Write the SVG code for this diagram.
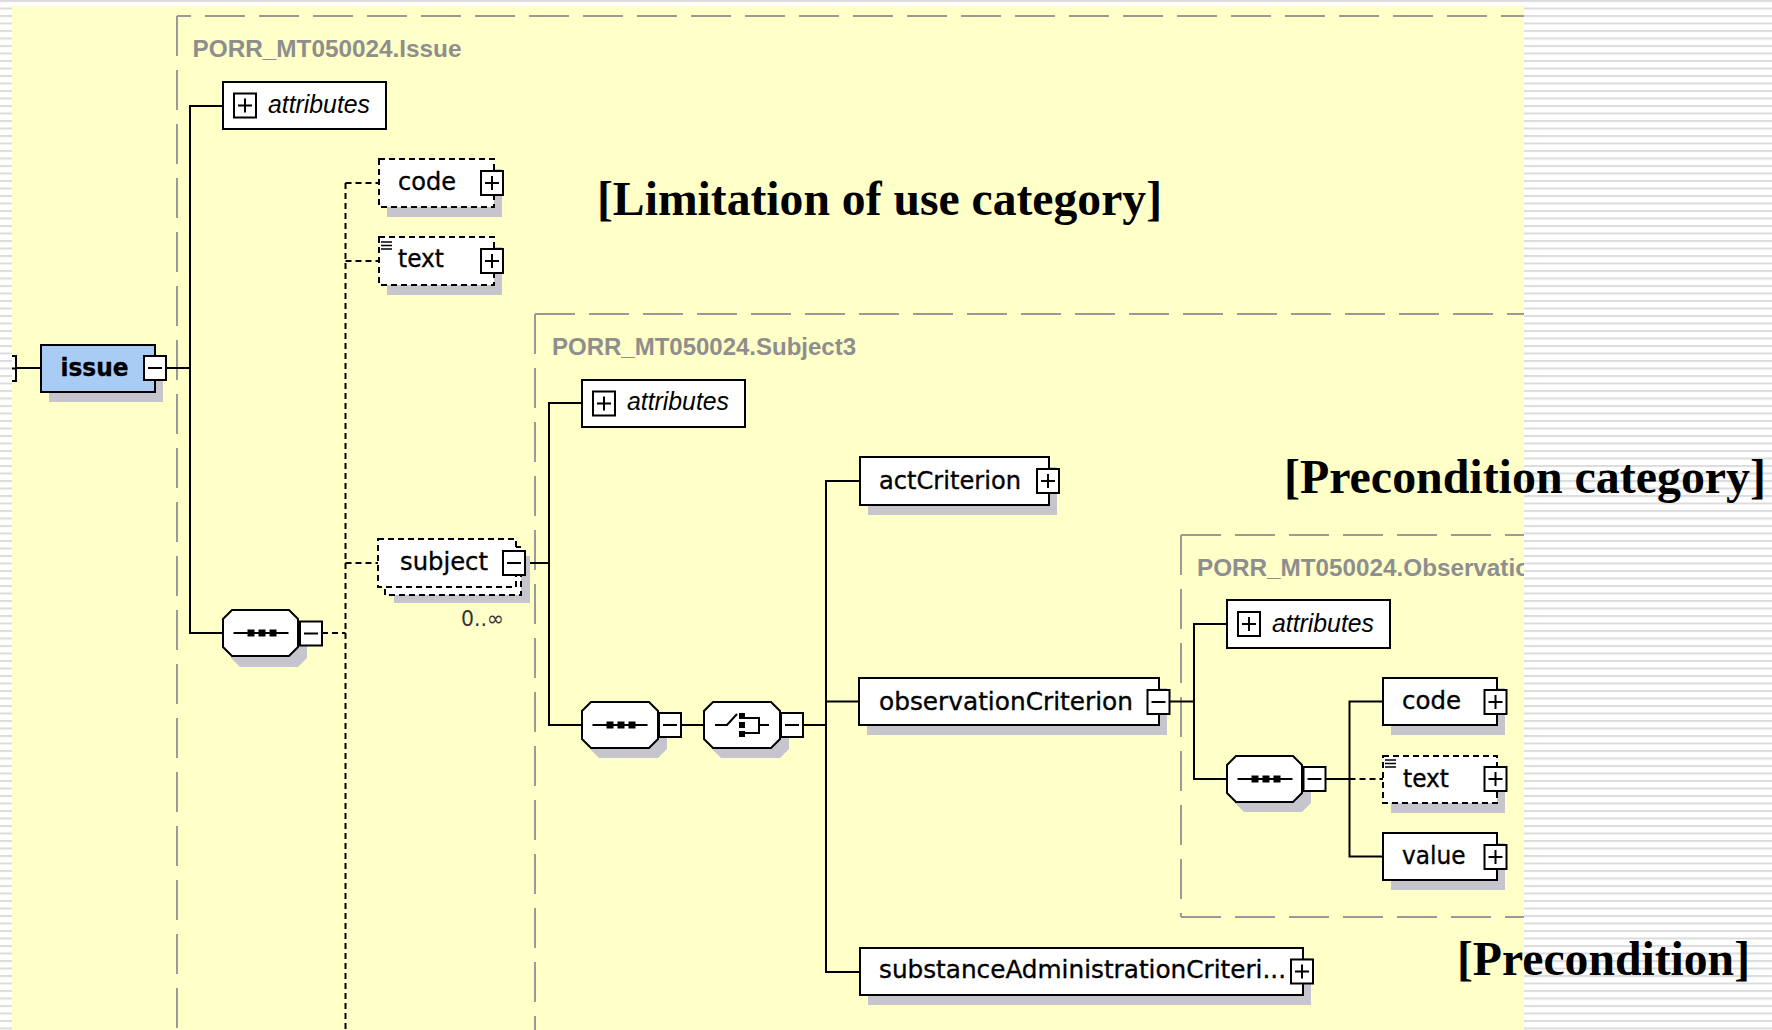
<svg xmlns="http://www.w3.org/2000/svg" xmlns:xlink="http://www.w3.org/1999/xlink" width="1772" height="1030" viewBox="0 0 1772 1030">
  <style>
    .sh { fill: #c6c4cc; }
    .box { fill: #fff; stroke: #000; stroke-width: 2; }
    .dbox { fill: #fff; stroke: #000; stroke-width: 2; stroke-dasharray: 6 4; }
    .blue { fill: #a9ccf5; stroke: #000; stroke-width: 2; }
    .ln { stroke: #000; stroke-width: 2; fill: none; }
    .dl { stroke: #000; stroke-width: 2; fill: none; stroke-dasharray: 6 4; }
    .cont { stroke: #9a9a9a; stroke-width: 2; fill: none; stroke-dasharray: 40 14; }
    .name { font-family: "DejaVu Sans", "Liberation Sans", sans-serif; font-size: 24.5px; fill: #000; stroke: #000; stroke-width: 0.35; }
    .attr { font-family: "Liberation Sans", Arial, sans-serif; font-style: italic; font-size: 25px; fill: #000; }
    .lbl { font-family: "Liberation Sans", Arial, sans-serif; font-weight: bold; font-size: 24px; fill: #8e8e8e; }
    .card { font-family: "DejaVu Sans", sans-serif; font-size: 22px; fill: #333; }
    .note { font-family: "Liberation Serif", "Times New Roman", serif; font-weight: bold; font-size: 48px; fill: #000; }
  </style>
  <defs>
    <pattern id="stripes" x="0" y="0" width="16" height="7.5" patternUnits="userSpaceOnUse">
      <rect x="0" y="0" width="16" height="7.5" fill="#ffffff"/>
      <rect x="0" y="0" width="16" height="2" fill="#dcdcdc"/>
    </pattern>
    <clipPath id="panelClip">
      <rect x="12" y="6" width="1512" height="1030"/>
    </clipPath>
    <!-- expand / collapse buttons -->
    <g id="plus">
      <rect x="0" y="0" width="22" height="24" fill="#fff" stroke="#000" stroke-width="2"/>
      <path d="M4 12H18M11 5V19" stroke="#000" stroke-width="2"/>
    </g>
    <g id="minus">
      <rect x="0" y="0" width="22" height="24" fill="#fff" stroke="#000" stroke-width="2"/>
      <path d="M4 12H18" stroke="#000" stroke-width="2"/>
    </g>
    <!-- sequence compositor glyph, centred on origin -->
    <g id="seqIcon">
      <path d="M-27 0H28" stroke="#000" stroke-width="2"/>
      <rect x="-13" y="-3.5" width="7" height="7" fill="#000"/>
      <rect x="-2" y="-3.5" width="7" height="7" fill="#000"/>
      <rect x="9" y="-3.5" width="7" height="7" fill="#000"/>
    </g>
    <!-- choice compositor glyph, centred on origin -->
    <g id="choiceIcon">
      <path d="M-27 0H-15L-5 -11" stroke="#000" stroke-width="2" fill="none"/>
      <rect x="-3" y="-12" width="6" height="6" fill="#000"/>
      <rect x="-3" y="-3" width="6" height="6" fill="#000"/>
      <rect x="-3" y="6" width="6" height="6" fill="#000"/>
      <path d="M3 -7H17V8H3M17 0H27" stroke="#000" stroke-width="2" fill="none"/>
    </g>
    <!-- small documentation mark -->
    <g id="docMark">
      <path d="M0 1H11M0 4.5H11M0 8H11" stroke="#000" stroke-width="1.5"/>
    </g>
  </defs>

  <!-- page background -->
  <rect x="0" y="0" width="1772" height="1030" fill="url(#stripes)"/>
  <rect x="12" y="6" width="1512" height="1030" fill="#ffffc8"/>

  <g clip-path="url(#panelClip)">
    <!-- complex-type containers -->
    <g id="containers">
      <path class="cont" d="M177 16V1040"/>
      <path class="cont" d="M177 16H1530" stroke-dashoffset="26"/>
      <text class="lbl" x="192.5" y="57" textLength="269" lengthAdjust="spacingAndGlyphs">PORR_MT050024.Issue</text>
      <path class="cont" d="M535 314V1040"/>
      <path class="cont" d="M535 314H1530"/>
      <text class="lbl" x="552" y="355" textLength="304" lengthAdjust="spacingAndGlyphs">PORR_MT050024.Subject3</text>
      <path class="cont" d="M1181 535V917"/>
      <path class="cont" d="M1181 535H1530"/>
      <path class="cont" d="M1181 917H1530"/>
      <text class="lbl" x="1197" y="576" textLength="333" lengthAdjust="spacingAndGlyphs">PORR_MT050024.Observatio</text>
    </g>

    <!-- connectors -->
    <g id="connectors">
      <path class="ln" d="M16 368H41"/>
      <path class="ln" d="M166 368H190"/>
      <path class="ln" d="M223 106H190V633H223"/>
      <path class="dl" d="M322 633H345.5"/>
      <path class="dl" d="M345.5 183V1040"/>
      <path class="dl" d="M345.5 183H379"/>
      <path class="dl" d="M345.5 261H379"/>
      <path class="dl" d="M345.5 563H378"/>
      <path class="ln" d="M525 563H549"/>
      <path class="ln" d="M582 403H549V725H582"/>
      <path class="ln" d="M681 725H704"/>
      <path class="ln" d="M803 725H826"/>
      <path class="ln" d="M860 481H826V972H860"/>
      <path class="ln" d="M826 701.5H859"/>
      <path class="ln" d="M1169 701.5H1194"/>
      <path class="ln" d="M1227 624H1194V779H1227"/>
      <path class="ln" d="M1325 779H1349.5"/>
      <path class="ln" d="M1383 701.5H1349.5V856.5H1383"/>
      <path class="dl" d="M1349.5 779H1383"/>
    </g>

    <!-- parent button stub at the left edge -->
    <g id="parent-stub">
      <rect x="-8" y="356" width="24" height="25" fill="#fff" stroke="#000" stroke-width="2"/>
      <path d="M12 368.5H15" stroke="#000" stroke-width="2"/>
    </g>

    <g id="node-issue">
      <rect class="sh" x="49" y="355" width="114" height="47"/>
      <rect class="blue" x="41" y="345" width="114" height="47"/>
      <text class="name" x="60.5" y="376" font-weight="bold" font-size="23.5" textLength="68" lengthAdjust="spacingAndGlyphs">issue</text>
      <use xlink:href="#minus" x="144" y="356"/>
    </g>

    <g id="node-issue-attributes">
      <rect class="box" x="223" y="82" width="163" height="47"/>
      <use xlink:href="#plus" x="234" y="93.5"/>
      <text class="attr" x="268" y="113" textLength="102" lengthAdjust="spacingAndGlyphs">attributes</text>
    </g>

    <g id="node-issue-sequence">
      <path class="sh" d="M240 620H298L307 629V658L298 667H240L231 658V629Z"/>
      <path class="box" d="M232 610H289L298 619V647L289 656H232L223 647V619Z"/>
      <use xlink:href="#seqIcon" x="260.5" y="633"/>
      <use xlink:href="#minus" x="300" y="621.5"/>
    </g>

    <g id="node-code">
      <rect class="sh" x="387" y="169" width="115" height="48"/>
      <rect class="dbox" x="379" y="159" width="115" height="48"/>
      <text class="name" x="398" y="190" textLength="58" lengthAdjust="spacingAndGlyphs">code</text>
      <use xlink:href="#plus" x="481" y="171"/>
    </g>

    <g id="node-text">
      <rect class="sh" x="387" y="247" width="115" height="48"/>
      <rect class="dbox" x="379" y="237" width="115" height="48"/>
      <use xlink:href="#docMark" x="381" y="241"/>
      <text class="name" x="398" y="267" textLength="46" lengthAdjust="spacingAndGlyphs">text</text>
      <use xlink:href="#plus" x="481" y="249"/>
    </g>

    <g id="node-subject">
      <rect class="sh" x="394" y="556" width="136" height="47"/>
      <rect class="dbox" x="385" y="547" width="136" height="48"/>
      <rect class="dbox" x="378" y="539" width="138" height="48"/>
      <text class="name" x="400" y="570" textLength="88" lengthAdjust="spacingAndGlyphs">subject</text>
      <use xlink:href="#minus" x="503" y="551"/>
      <text class="card" x="461" y="626" textLength="43" lengthAdjust="spacingAndGlyphs">0..∞</text>
    </g>

    <g id="node-subject3-attributes">
      <rect class="box" x="582" y="380" width="163" height="47"/>
      <use xlink:href="#plus" x="593" y="391.5"/>
      <text class="attr" x="627" y="410" textLength="102" lengthAdjust="spacingAndGlyphs">attributes</text>
    </g>

    <g id="node-subject3-sequence">
      <path class="sh" d="M599 712H658L667 721V749L658 758H599L590 749V721Z"/>
      <path class="box" d="M591 702H649L658 711V739L649 748H591L582 739V711Z"/>
      <use xlink:href="#seqIcon" x="619.5" y="725"/>
      <use xlink:href="#minus" x="659" y="713"/>
    </g>

    <g id="node-subject3-choice">
      <path class="sh" d="M721 712H780L789 721V749L780 758H721L712 749V721Z"/>
      <path class="box" d="M713 702H771L780 711V739L771 748H713L704 739V711Z"/>
      <use xlink:href="#choiceIcon" x="742" y="725"/>
      <use xlink:href="#minus" x="781" y="713"/>
    </g>

    <g id="node-actCriterion">
      <rect class="sh" x="868" y="467" width="189" height="48"/>
      <rect class="box" x="860" y="457" width="189" height="48"/>
      <text class="name" x="879" y="489" textLength="142" lengthAdjust="spacingAndGlyphs">actCriterion</text>
      <use xlink:href="#plus" x="1037" y="469"/>
    </g>

    <g id="node-observationCriterion">
      <rect class="sh" x="867" y="688" width="300" height="47"/>
      <rect class="box" x="859" y="678" width="300" height="47"/>
      <text class="name" x="879" y="710" textLength="254" lengthAdjust="spacingAndGlyphs">observationCriterion</text>
      <use xlink:href="#minus" x="1147.5" y="690"/>
    </g>

    <g id="node-substanceAdministrationCriterion">
      <rect class="sh" x="868" y="958" width="443" height="47"/>
      <rect class="box" x="860" y="948" width="443" height="47"/>
      <text class="name" x="879" y="978" textLength="407" lengthAdjust="spacingAndGlyphs">substanceAdministrationCriteri...</text>
      <use xlink:href="#plus" x="1291" y="959.5"/>
    </g>

    <g id="node-observation-attributes">
      <rect class="box" x="1227" y="600" width="163" height="48"/>
      <use xlink:href="#plus" x="1238" y="612"/>
      <text class="attr" x="1272" y="631.5" textLength="102" lengthAdjust="spacingAndGlyphs">attributes</text>
    </g>

    <g id="node-observation-sequence">
      <path class="sh" d="M1244 766H1302L1311 775V803L1302 812H1244L1235 803V775Z"/>
      <path class="box" d="M1236 756H1293L1302 765V793L1293 802H1236L1227 793V765Z"/>
      <use xlink:href="#seqIcon" x="1264.5" y="779"/>
      <use xlink:href="#minus" x="1303.5" y="767"/>
    </g>

    <g id="node-observation-code">
      <rect class="sh" x="1391" y="688" width="114" height="47"/>
      <rect class="box" x="1383" y="678" width="114" height="47"/>
      <text class="name" x="1402" y="709" textLength="59" lengthAdjust="spacingAndGlyphs">code</text>
      <use xlink:href="#plus" x="1484.5" y="690"/>
    </g>

    <g id="node-observation-text">
      <rect class="sh" x="1391" y="766" width="114" height="47"/>
      <rect class="dbox" x="1383" y="756" width="114" height="47"/>
      <use xlink:href="#docMark" x="1385" y="759"/>
      <text class="name" x="1403" y="787" textLength="46" lengthAdjust="spacingAndGlyphs">text</text>
      <use xlink:href="#plus" x="1484.5" y="767"/>
    </g>

    <g id="node-observation-value">
      <rect class="sh" x="1391" y="843" width="114" height="47"/>
      <rect class="box" x="1383" y="833" width="114" height="47"/>
      <text class="name" x="1402" y="864" textLength="63.5" lengthAdjust="spacingAndGlyphs">value</text>
      <use xlink:href="#plus" x="1484.5" y="845"/>
    </g>
  </g>

  <!-- category annotations -->
  <g id="annotations">
    <text class="note" x="597" y="215" textLength="565" lengthAdjust="spacingAndGlyphs">[Limitation of use category]</text>
    <text class="note" x="1284" y="493" textLength="482" lengthAdjust="spacingAndGlyphs">[Precondition category]</text>
    <text class="note" x="1457" y="975" textLength="293" lengthAdjust="spacingAndGlyphs">[Precondition]</text>
  </g>
</svg>
